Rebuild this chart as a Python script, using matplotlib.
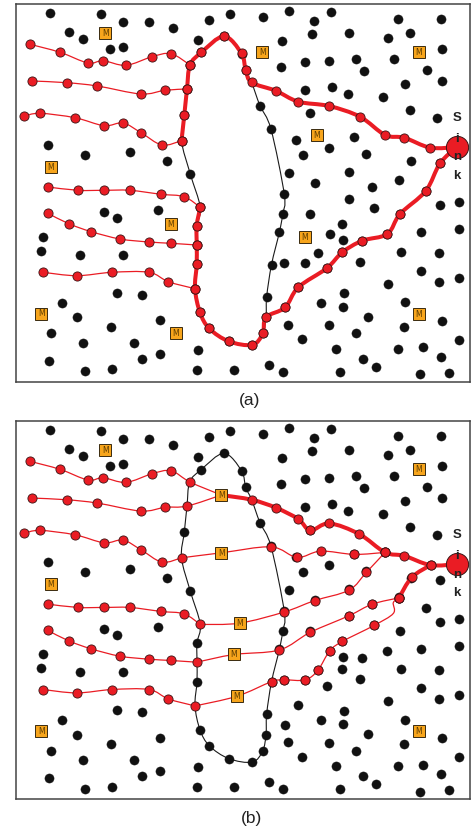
import numpy as np
import matplotlib
matplotlib.use("Agg")
import matplotlib.pyplot as plt
from matplotlib.path import Path
from matplotlib.patches import PathPatch

# ---------------- data (panel-local pixel frame, y downward) ----------------
BLACK_NODES = [
    (50,13.3),(100.7,14),(123.3,22),(149,22),(173,28),(209.3,20),(230.3,14),(69.3,32.3),(82.7,39),
    (109.7,49.3),(123.3,46.7),(198.3,39.7),(48,145.3),(85,154.7),(129.7,151.7),(167.3,161.3),(190.3,174),
    (104.3,212.3),(117,218.3),(158.3,210.3),(43,237.3),(41.3,250.7),(80,254.7),(123,254.7),(116.7,293),
    (142.3,294.7),(62.3,302.7),(77,317.3),(111,326.7),(160.3,320.3),(51,333.3),(83.3,343),(134.3,343),
    (142.3,359),(160.3,354),(198.3,349.7),(49.3,360.7),(85,371.3),(112,369.3),(197,370),(233.7,370),
    (263.3,17.3),(289,11),(314.3,20.7),(331,12),(398,18.7),(440.7,18.7),(311.7,34.3),(349.3,33),(282.3,41.3),
    (388,37.7),(410.3,32.7),(442.3,49),(281,66.7),(305,61.7),(329.3,61.3),(356.3,58.7),(364,71),(394,58.7),
    (426.7,70),(442.3,81),(305,90),(332.3,87.3),(348,94),(383.3,97.3),(405,84),(310,113.3),(410.3,109.7),
    (436.7,117.7),(296,140),(303.3,155),(329.3,147.7),(354.3,137),(366.3,154.3),(411,160.7),(288.7,173.3),
    (314.7,182.7),(349.3,172.3),(372.3,186.7),(399.3,180.3),(260,105.7),(271,129),(284.3,194),
    (349,199),(374,208.3),(440.3,204.7),(459.3,202),(310.3,214.3),(342.3,224.3),(329.7,233.7),(343.3,240.3),
    (420.7,232.3),(458.7,229.3),(317.7,253.3),(284.3,262.7),(305,262.7),(360,262),(400.7,251.7),(439,253),
    (420.7,271),(388.3,283.7),(439,281.7),(458.7,277.7),(344.3,293.3),(321,303),(342.7,307),(405,302.3),
    (368,316.7),(288,324.7),(328.7,325.3),(404,326.7),(442.3,320.7),(356,333.3),(302,339.3),(336.3,349),
    (398,349),(423.3,347.3),(458.7,340),(363.3,358.7),(375.7,367),(441,356.7),(269.3,365),(282.7,371.7),
    (340.3,371.7),(420,374.3),(449,373),(282.7,214),(279.3,232.3),(271.7,265),(266.7,296.7),
    (224,36.3),(201.3,52.5),(184.3,115),(241.5,53.7),(245.7,70.3),(196.7,225.7),(196.7,264.5),(200,312.5),
    (209.3,328.5),(228.7,341.3),(252.3,344.8),(262.7,333.5),(266,317.3),(285,307.5),(298.3,287.3),
    (326.7,268.3),(342.3,252.3),(362.3,240.7),(387.3,234),(400,214),(425.7,191),(440,163.3),
]

HOLE = [(224,36.3),(201.3,52.5),(189.7,65),(187,89),(184.3,115),(181.5,140.7),(190.3,174),(200.3,207.3),
        (197,225.7),(197,245),(197,264.5),(195,288.7),(200,312.5),(209.3,328.5),(228.7,341.3),(252.3,344.8),
        (262.7,333.5),(266,317.3),(266.7,296.5),(271.5,264.7),(279.3,232.5),(282.7,214.3),(284.3,194.5),
        (271,129.3),(260,105.7),(251.7,82.7),(245.7,70.3),(241.5,53.7)]

SINK = (457, 147)

P1 = [(30,44.3),(60,52.3),(88,63),(103,60.7),(126,65.3),(152,56.7),(171,53.7),(190,65)]
P2 = [(32.3,81),(67,82.7),(97.3,86),(141,94),(164.7,90.3),(187,89)]
P3 = [(24,116.3),(39.7,113.3),(75,117.7),(104,125.7),(123,123),(141,132.7),(162,145),(181.5,140.7)]
P4 = [(48,187),(78,190.3),(104,190.3),(129.7,190.3),(161.3,194.3),(184,196.7),(200.3,207.3)]
P5 = [(48,213.3),(68.7,223.7),(91.3,231.7),(120,239),(149,242),(171,243.3),(196.7,245)]
P6 = [(43,272.3),(76.7,275.7),(112,272.3),(149,272.3),(168.3,281.7),(195,288.7)]

# panel (a)
A_THICK1 = [(181.5,140.7),(184.3,115),(187,89),(190,65),(201.3,52.5),(224,36.3),(241.5,53.5),(245.7,70.3),
            (251.7,82.5),(275.7,90.7),(298.3,101.7),(329,106),(360,116.7),(385,135),(404.3,137.7),
            (430.3,147.7),SINK]
A_THICK2 = [(200.3,207.3),(196.7,225.7),(196.7,245),(196.7,264.5),(195,288.7),(200,312.5),(209.3,328.5),
            (228.7,341.3),(252.3,344.8),(262.7,333.5),(266,317.3),(285,307.5),(298.3,287.3),(326.7,268.3),
            (342.3,252.3),(362.3,240.7),(387.3,234),(400,214),(425.7,191),(440,163.3),SINK]
A_MOBILE = [(105.3,33.3),(262.3,52),(418.7,52),(51,167.3),(316.7,135),(170.7,224),(305,237.3),
            (41.3,313.7),(176,333.3),(418.7,314.3)]

# panel (b)
M1, M2, M3, M4, M5 = (221.3,78), (221.3,135.7), (239.5,206), (234,237.3), (237,279)
B_THIN3 = [M2,(271,129.8),(297,140.3),(320.7,134),(354.3,137.3),(385,135.3)]
B_THIN4 = [M3,(284.3,194.8),(314.5,183.5),(349,173),(366.3,155.3),(385,135.3)]
B_THIN5 = [M4,(279.3,232.8),(310,215.3),(348.7,198.7),(372.3,187),(399,180.7)]
B_THIN6 = [M5,(271.5,264.5),(284.3,262.7),(305,262.7),(317.7,253.3),(329.7,233.7),(342.3,224.3),
           (374,208.3),(393.3,196.3),(393.3,185.5),(399,180.7)]
B6_BENDS = [(393.3,196.3),(393.3,185.5)]
B_THICK1 = [M1,(251.7,82.7),(276,90.7),(298.3,102),(310.3,113.3),(329.3,106.3),(359.3,117),(385,135.3),
            (404.3,138.7),(430.5,148),SINK]
B_THICK2 = [(399,180.7),(411.7,160.3),(430.5,148)]
B_MOBILE = [(105.3,33.3),M1,(418.7,52.3),(51,167),M2,M3,M4,M5,(41.3,313.7),(418.7,314)]

SINK_LETTERS = [("S", -29), ("i", -8.5), ("n", 10.5), ("k", 29)]
PANEL_LABELS = ["(a)", "(b)"]

# ---------------- style ----------------
RED = "#ea1c24"
RED_EDGE = "#3a1414"
BLK = "#111111"
ORANGE = "#f7a51c"
DOT_MS = 6.6


def smooth_path(pts, closed=False):
    pts = np.asarray(pts, float)
    n = len(pts)
    if closed:
        ext = np.vstack([pts[-1], pts, pts[0], pts[1]])
        segs = n
    else:
        ext = np.vstack([pts[0], pts, pts[-1]])
        segs = n - 1
    verts = [pts[0]]
    codes = [Path.MOVETO]
    for i in range(segs):
        p0, p1, p2, p3 = ext[i], ext[i + 1], ext[i + 2], ext[i + 3]
        c1 = p1 + (p2 - p0) / 6.0
        c2 = p2 - (p3 - p1) / 6.0
        verts += [c1, c2, p2]
        codes += [Path.CURVE4] * 3
    return Path(verts, codes)


def draw_curve(ax, pts, color, lw, z, closed=False):
    ax.add_patch(PathPatch(smooth_path(pts, closed), fill=False, edgecolor=color, lw=lw,
                           zorder=z, capstyle="round", joinstyle="round"))


def red_nodes(ax, pts, exclude=()):
    pts = [p for p in pts if p not in exclude and p != SINK]
    xs, ys = zip(*pts)
    ax.plot(xs, ys, "o", ms=DOT_MS, mfc=RED, mec=RED_EDGE, mew=0.6, zorder=6, ls="none")


def mobiles(ax, pts):
    xs, ys = zip(*pts)
    ax.plot(xs, ys, "s", ms=8.6, mfc=ORANGE, mec="#3a2a10", mew=0.7, zorder=8, ls="none")
    for x, y in pts:
        ax.text(x, y + 0.3, "M", fontsize=5.6, color="#5c3b00", ha="center", va="center",
                zorder=9, family="DejaVu Sans")


def base(ax):
    ax.set_xlim(15.7, 470)
    ax.set_ylim(381.7, 4)
    ax.set_xticks([])
    ax.set_yticks([])
    for s in ax.spines.values():
        s.set_color("#444444")
        s.set_linewidth(1.1)
    xs, ys = zip(*BLACK_NODES)
    ax.plot(xs, ys, "o", ms=DOT_MS, mfc=BLK, mec=BLK, mew=0.3, zorder=3, ls="none")
    draw_curve(ax, HOLE, "#1a1a1a", 0.8, 2, closed=True)
    # sink
    ax.plot([SINK[0]], [SINK[1]], "o", ms=16, mfc=RED, mec=RED_EDGE, mew=0.7, zorder=7)
    for ch, dy in SINK_LETTERS:
        ax.text(SINK[0], SINK[1] + dy, ch, fontsize=9.5, fontweight="bold", color="#222222",
                ha="center", va="center", zorder=10, family="Liberation Sans")


fig = plt.figure(figsize=(4.72, 8.34), dpi=100)
W, H = 472.0, 834.0
axA = fig.add_axes([15.7 / W, 1 - 381.7 / H, (470 - 15.7) / W, 377.7 / H])
axB = fig.add_axes([15.7 / W, 1 - 799.0 / H, (470 - 15.7) / W, 378.0 / H])

# ---- panel (a)
base(axA)
for p in (P1, P2, P3, P4, P5, P6):
    draw_curve(axA, p, RED, 0.9, 4)
draw_curve(axA, A_THICK1, RED, 2.9, 5)
draw_curve(axA, A_THICK2, RED, 2.9, 5)
for p in (P1, P2, P3, P4, P5, P6, A_THICK1, A_THICK2):
    red_nodes(axA, p)
mobiles(axA, A_MOBILE)

# ---- panel (b)
base(axB)
for p, m in ((P1, M1), (P2, M1)):
    draw_curve(axB, p + [m], RED, 0.9, 4)
for p, tail in ((P3, B_THIN3), (P4, B_THIN4), (P5, B_THIN5), (P6, B_THIN6)):
    draw_curve(axB, p, RED, 0.9, 4)
    draw_curve(axB, [p[-1]] + tail, RED, 0.9, 4)
draw_curve(axB, B_THICK1, RED, 2.9, 5)
draw_curve(axB, B_THICK2, RED, 2.9, 5)
for p in (P1, P2, P3, P4, P5, P6):
    red_nodes(axB, p)
for p in (B_THIN3, B_THIN4, B_THIN5, B_THIN6, B_THICK1, B_THICK2):
    red_nodes(axB, p[1:] if p[0] in (M1, M2, M3, M4, M5) else p, exclude=B6_BENDS)
mobiles(axB, B_MOBILE)

fig.text(250 / W, 1 - 400 / H, PANEL_LABELS[0], fontsize=12.5, ha="center", va="center",
         family="Liberation Sans", color="#222222")
fig.text(251 / W, 1 - 818 / H, PANEL_LABELS[1], fontsize=12.5, ha="center", va="center",
         family="Liberation Sans", color="#222222")

fig.savefig("out.png", dpi=100)
